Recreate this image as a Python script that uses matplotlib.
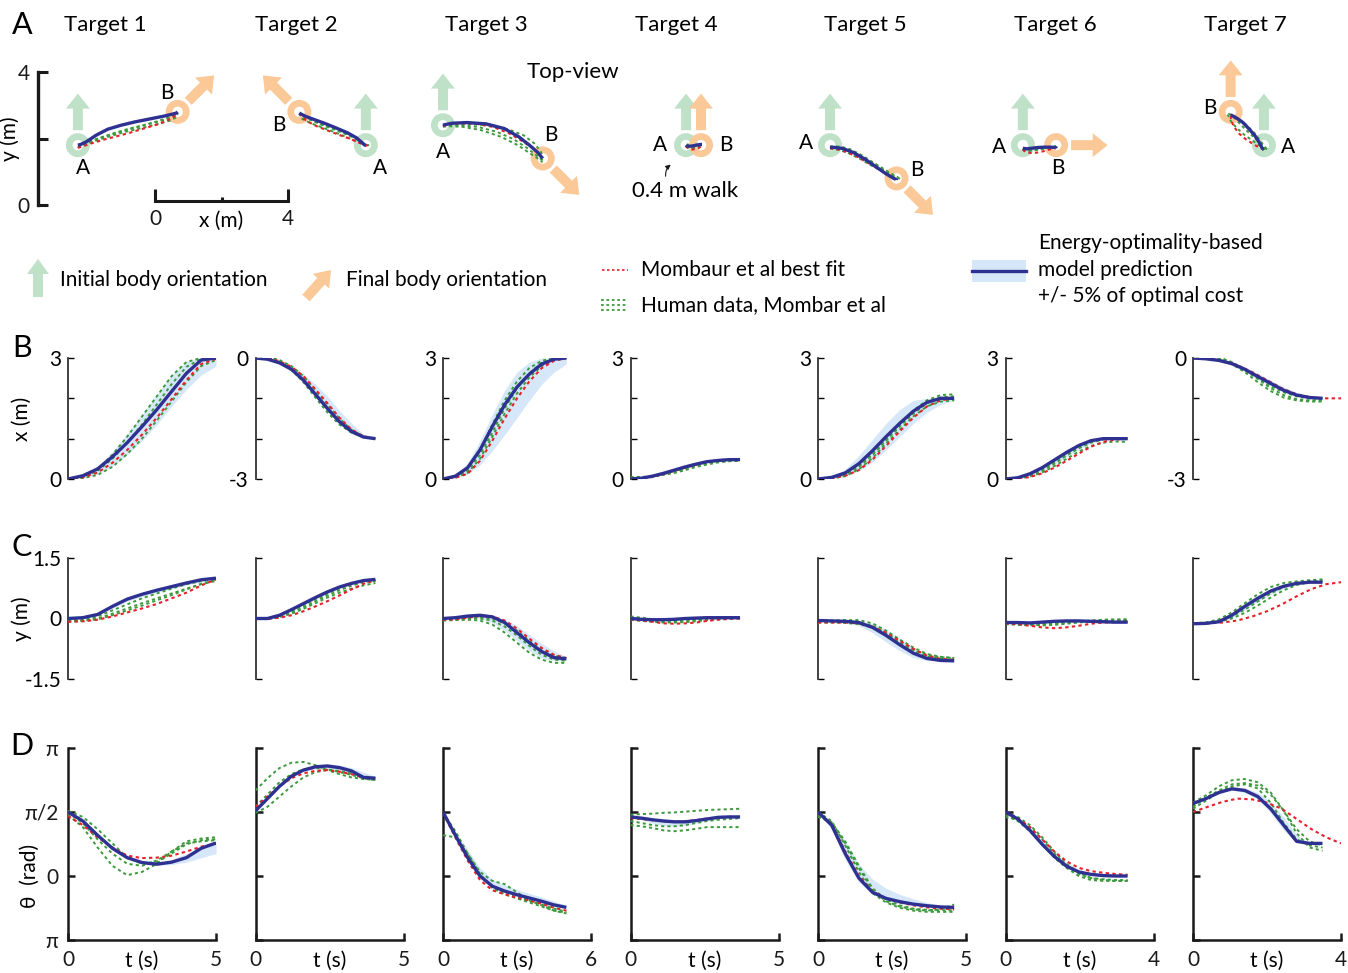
import numpy as np
import matplotlib
matplotlib.use("Agg")
import matplotlib.pyplot as plt
from matplotlib.patches import Circle, FancyArrow, Rectangle

plt.rcParams['font.family'] = ['Lato', 'DejaVu Sans']
plt.rcParams['font.size'] = 15

W, H = 1348, 973

#------------------ data
TARGETS = ['Target 1', 'Target 2', 'Target 3', 'Target 4', 'Target 5', 'Target 6', 'Target 7']
SAMPLES = [0.0, 0.1, 0.2, 0.3, 0.4, 0.5, 0.6, 0.7, 0.8, 0.9, 1.0]   # fraction of movement time
T_END = [5.0, 4.05, 5.0, 3.7, 4.6, 3.3, 3.5]
FIT_END = [5.0, 4.05, 5.0, 3.7, 4.6, 3.3, 4.0]
T_AXIS = [5, 5, 6, 5, 5, 4, 4]
X_RANGE = [(0, 3), (-3, 0), (0, 3), (0, 3), (0, 3), (0, 3), (-3, 0)]

# x (m)
X_MODEL = [
    [0, 0.08, 0.25, 0.55, 0.9, 1.3, 1.72, 2.17, 2.62, 2.95, 3.0],
    [0, -0.03, -0.12, -0.28, -0.55, -0.9, -1.25, -1.58, -1.82, -1.96, -2.0],
    [0, 0.07, 0.28, 0.72, 1.3, 1.84, 2.28, 2.6, 2.85, 2.97, 3.0],
    [0, 0.02, 0.07, 0.14, 0.22, 0.3, 0.37, 0.43, 0.46, 0.48, 0.48],
    [0, 0.04, 0.15, 0.38, 0.7, 1.05, 1.38, 1.68, 1.9, 2.0, 2.0],
    [0, 0.03, 0.13, 0.28, 0.47, 0.66, 0.83, 0.95, 1.0, 1.0, 1.0],
    [0, -0.02, -0.06, -0.14, -0.28, -0.46, -0.63, -0.8, -0.92, -0.98, -1.0],
]
X_FIT = [
    [0, 0.04, 0.16, 0.4, 0.72, 1.1, 1.52, 1.98, 2.45, 2.85, 2.98],
    [0.05, 0.0, -0.08, -0.22, -0.45, -0.78, -1.12, -1.48, -1.77, -1.94, -2.0],
    [0, 0.03, 0.13, 0.45, 0.95, 1.5, 2.0, 2.42, 2.75, 2.93, 3.0],
    [0, 0.01, 0.05, 0.12, 0.2, 0.28, 0.36, 0.42, 0.46, 0.48, 0.48],
    [0, 0.02, 0.08, 0.22, 0.48, 0.82, 1.18, 1.52, 1.8, 1.95, 2.0],
    [0, 0.01, 0.05, 0.14, 0.28, 0.45, 0.63, 0.8, 0.92, 0.98, 1.0],
    [0, -0.02, -0.07, -0.18, -0.35, -0.55, -0.75, -0.9, -0.98, -1.0, -1.0],
]
X_HUMAN = [
    [[0, 0.06, 0.24, 0.6, 1.05, 1.55, 2.05, 2.55, 2.9, 3.0, 3.0],
     [0, 0.05, 0.2, 0.5, 0.9, 1.35, 1.85, 2.35, 2.78, 2.98, 3.0],
     [0, 0.02, 0.1, 0.3, 0.62, 1.0, 1.45, 1.92, 2.4, 2.8, 2.95]],
    [[0.08, 0.03, -0.08, -0.28, -0.6, -0.98, -1.35, -1.65, -1.85, -1.96, -2.0],
     [0.05, 0.0, -0.1, -0.3, -0.58, -0.92, -1.28, -1.6, -1.83, -1.96, -2.0],
     [0.1, 0.05, -0.05, -0.2, -0.45, -0.8, -1.15, -1.5, -1.78, -1.94, -2.0]],
    [[0, 0.04, 0.2, 0.6, 1.15, 1.75, 2.25, 2.62, 2.88, 2.98, 3.0],
     [0, 0.03, 0.15, 0.5, 1.05, 1.62, 2.12, 2.52, 2.8, 2.95, 3.0],
     [0, 0.05, 0.25, 0.72, 1.35, 1.95, 2.42, 2.75, 2.93, 3.0, 3.0]],
    [[0.05, 0.05, 0.07, 0.1, 0.15, 0.22, 0.3, 0.36, 0.41, 0.44, 0.45],
     [0.02, 0.03, 0.06, 0.11, 0.18, 0.26, 0.33, 0.39, 0.43, 0.45, 0.46],
     [0, 0.02, 0.06, 0.12, 0.2, 0.28, 0.35, 0.41, 0.45, 0.47, 0.47]],
    [[0, 0.02, 0.1, 0.3, 0.6, 0.95, 1.3, 1.62, 1.88, 2.02, 2.05],
     [0, 0.03, 0.12, 0.32, 0.62, 0.98, 1.35, 1.7, 1.95, 2.08, 2.1],
     [0, 0.01, 0.07, 0.24, 0.52, 0.88, 1.22, 1.55, 1.8, 1.92, 1.95]],
    [[0, 0.02, 0.08, 0.2, 0.38, 0.58, 0.76, 0.9, 0.98, 1.0, 1.0],
     [0, 0.01, 0.06, 0.16, 0.32, 0.5, 0.68, 0.82, 0.9, 0.93, 0.92],
     [0, 0.02, 0.1, 0.24, 0.42, 0.62, 0.8, 0.93, 0.99, 1.0, 1.0]],
    [[0.08, 0.06, 0.0, -0.12, -0.3, -0.52, -0.75, -0.92, -1.02, -1.05, -1.05],
     [0.1, 0.08, 0.02, -0.1, -0.28, -0.5, -0.7, -0.85, -0.95, -1.0, -1.0],
     [0.05, 0.03, -0.03, -0.15, -0.35, -0.6, -0.82, -0.98, -1.05, -1.08, -1.08]],
]
X_LO = [
    [0, 0.03, 0.12, 0.32, 0.6, 0.95, 1.35, 1.8, 2.22, 2.58, 2.8],
    [0, -0.04, -0.15, -0.33, -0.62, -0.98, -1.33, -1.65, -1.88, -1.98, -2.0],
    [0, 0.03, 0.12, 0.35, 0.7, 1.1, 1.52, 1.95, 2.35, 2.65, 2.85],
    [0, 0.0, 0.05, 0.12, 0.2, 0.28, 0.35, 0.41, 0.44, 0.46, 0.47],
    [0, 0.02, 0.07, 0.2, 0.42, 0.72, 1.05, 1.38, 1.65, 1.85, 1.95],
    [0, 0.02, 0.09, 0.2, 0.36, 0.55, 0.73, 0.88, 0.97, 1.0, 1.0],
    [0, -0.03, -0.08, -0.18, -0.34, -0.53, -0.7, -0.85, -0.95, -1.0, -1.0],
]
X_HI = [
    [0, 0.1, 0.32, 0.68, 1.12, 1.6, 2.1, 2.58, 2.92, 3.0, 3.0],
    [0, -0.02, -0.08, -0.2, -0.4, -0.65, -0.95, -1.3, -1.62, -1.88, -2.0],
    [0, 0.1, 0.4, 0.95, 1.6, 2.2, 2.65, 2.9, 3.0, 3.0, 3.0],
    [0, 0.04, 0.09, 0.16, 0.24, 0.32, 0.39, 0.45, 0.48, 0.5, 0.49],
    [0, 0.06, 0.25, 0.58, 0.98, 1.38, 1.72, 1.95, 2.0, 2.0, 2.0],
    [0, 0.04, 0.16, 0.33, 0.53, 0.72, 0.88, 0.98, 1.0, 1.0, 1.0],
    [0, -0.01, -0.04, -0.1, -0.22, -0.38, -0.55, -0.72, -0.85, -0.93, -0.97],
]

# y (m)
Y_MODEL = [
    [0, 0.02, 0.1, 0.3, 0.48, 0.6, 0.7, 0.79, 0.88, 0.96, 1.0],
    [0, 0.0, 0.08, 0.22, 0.37, 0.52, 0.66, 0.78, 0.87, 0.94, 0.97],
    [0, 0.02, 0.06, 0.08, 0.04, -0.1, -0.35, -0.6, -0.82, -0.97, -1.0],
    [0, -0.02, -0.03, -0.03, -0.02, 0.0, 0.01, 0.02, 0.02, 0.02, 0.02],
    [-0.05, -0.06, -0.07, -0.1, -0.22, -0.42, -0.65, -0.86, -0.99, -1.04, -1.05],
    [-0.1, -0.1, -0.11, -0.09, -0.07, -0.06, -0.06, -0.07, -0.08, -0.09, -0.09],
    [-0.13, -0.12, -0.08, 0.08, 0.3, 0.5, 0.68, 0.8, 0.87, 0.9, 0.9],
]
Y_FIT = [
    [-0.08, -0.07, -0.03, 0.05, 0.15, 0.25, 0.36, 0.5, 0.64, 0.82, 0.97],
    [0, -0.01, 0.02, 0.08, 0.18, 0.3, 0.43, 0.57, 0.72, 0.86, 0.95],
    [-0.03, -0.02, 0.02, 0.06, 0.05, -0.05, -0.25, -0.5, -0.73, -0.9, -0.98],
    [-0.02, -0.05, -0.08, -0.12, -0.13, -0.12, -0.1, -0.06, -0.03, -0.01, 0.0],
    [-0.1, -0.1, -0.1, -0.12, -0.2, -0.35, -0.55, -0.75, -0.92, -1.0, -1.02],
    [-0.12, -0.14, -0.18, -0.22, -0.24, -0.22, -0.18, -0.13, -0.1, -0.09, -0.08],
    [-0.13, -0.12, -0.1, -0.05, 0.05, 0.18, 0.35, 0.55, 0.73, 0.85, 0.9],
]
Y_HUMAN = [
    [[-0.05, -0.03, 0.05, 0.2, 0.35, 0.5, 0.62, 0.74, 0.85, 0.93, 0.97],
     [-0.06, -0.05, 0.0, 0.12, 0.25, 0.38, 0.5, 0.62, 0.74, 0.85, 0.93],
     [-0.08, -0.06, -0.02, 0.08, 0.2, 0.32, 0.45, 0.58, 0.72, 0.86, 0.95]],
    [[0, 0, 0.06, 0.18, 0.33, 0.48, 0.62, 0.75, 0.85, 0.92, 0.95],
     [0, -0.01, 0.03, 0.12, 0.24, 0.38, 0.52, 0.64, 0.74, 0.82, 0.88],
     [0, 0, 0.05, 0.15, 0.28, 0.43, 0.57, 0.7, 0.81, 0.9, 0.93]],
    [[-0.05, -0.04, -0.03, -0.05, -0.15, -0.35, -0.6, -0.85, -1.02, -1.1, -1.1],
     [-0.04, -0.02, 0.0, 0.0, -0.05, -0.2, -0.42, -0.68, -0.9, -1.02, -1.05],
     [-0.03, -0.02, 0.02, 0.04, 0.0, -0.12, -0.3, -0.55, -0.78, -0.92, -0.98]],
    [[0.05, 0.02, -0.02, -0.05, -0.06, -0.05, -0.03, 0.0, 0.02, 0.03, 0.03],
     [-0.03, -0.06, -0.08, -0.1, -0.1, -0.09, -0.07, -0.04, -0.02, 0.0, 0.01],
     [0.0, -0.03, -0.05, -0.06, -0.06, -0.05, -0.03, -0.01, 0.0, 0.01, 0.01]],
    [[-0.05, -0.05, -0.04, -0.04, -0.12, -0.3, -0.52, -0.72, -0.88, -0.95, -0.98],
     [-0.08, -0.08, -0.08, -0.1, -0.18, -0.36, -0.58, -0.8, -0.94, -1.0, -1.02],
     [-0.1, -0.1, -0.11, -0.14, -0.22, -0.4, -0.6, -0.78, -0.9, -0.96, -0.98]],
    [[-0.12, -0.13, -0.14, -0.14, -0.12, -0.1, -0.08, -0.05, -0.03, -0.02, -0.02],
     [-0.1, -0.12, -0.15, -0.17, -0.16, -0.13, -0.1, -0.07, -0.05, -0.05, -0.06],
     [-0.14, -0.16, -0.17, -0.16, -0.13, -0.1, -0.08, -0.06, -0.05, -0.04, -0.03]],
    [[-0.12, -0.1, -0.02, 0.15, 0.38, 0.6, 0.78, 0.88, 0.92, 0.95, 0.97],
     [-0.12, -0.11, -0.06, 0.05, 0.22, 0.42, 0.62, 0.78, 0.88, 0.92, 0.93],
     [-0.13, -0.12, -0.08, 0.0, 0.14, 0.32, 0.52, 0.7, 0.83, 0.9, 0.92]],
]
Y_LO = [
    [0, 0, 0.08, 0.25, 0.42, 0.55, 0.65, 0.74, 0.83, 0.9, 0.95],
    [0, 0, 0.06, 0.19, 0.33, 0.48, 0.62, 0.74, 0.84, 0.92, 0.96],
    [0, 0.0, 0.02, 0.0, -0.1, -0.3, -0.55, -0.8, -0.98, -1.04, -1.05],
    [-0.03, -0.05, -0.06, -0.06, -0.05, -0.03, -0.02, -0.01, -0.01, -0.01, -0.01],
    [-0.05, -0.07, -0.1, -0.18, -0.35, -0.58, -0.8, -0.97, -1.04, -1.05, -1.05],
    [-0.13, -0.13, -0.14, -0.12, -0.1, -0.09, -0.09, -0.1, -0.11, -0.12, -0.12],
    [-0.13, -0.12, -0.1, 0.02, 0.22, 0.42, 0.6, 0.75, 0.85, 0.89, 0.9],
]
Y_HI = [
    [0, 0.03, 0.12, 0.33, 0.52, 0.65, 0.76, 0.85, 0.93, 0.99, 1.0],
    [0, 0.01, 0.1, 0.25, 0.41, 0.56, 0.7, 0.81, 0.9, 0.96, 0.98],
    [0, 0.02, 0.06, 0.08, 0.06, -0.02, -0.18, -0.4, -0.62, -0.8, -0.95],
    [0.03, 0.01, 0.0, 0.0, 0.01, 0.03, 0.04, 0.05, 0.05, 0.05, 0.05],
    [-0.05, -0.05, -0.05, -0.06, -0.12, -0.28, -0.5, -0.72, -0.9, -1.0, -1.03],
    [-0.07, -0.07, -0.08, -0.06, -0.04, -0.03, -0.03, -0.04, -0.05, -0.06, -0.06],
    [-0.13, -0.1, -0.02, 0.16, 0.38, 0.58, 0.74, 0.84, 0.89, 0.9, 0.9],
]

# theta (rad)
TH_MODEL = [
    [1.57, 1.35, 1.0, 0.68, 0.45, 0.33, 0.29, 0.34, 0.45, 0.68, 0.81],
    [1.6, 1.9, 2.2, 2.45, 2.6, 2.68, 2.7, 2.66, 2.58, 2.42, 2.4],
    [1.57, 1.0, 0.45, 0.0, -0.25, -0.37, -0.46, -0.54, -0.62, -0.71, -0.77],
    [1.45, 1.42, 1.38, 1.35, 1.33, 1.33, 1.36, 1.4, 1.44, 1.45, 1.45],
    [1.57, 1.25, 0.55, -0.05, -0.4, -0.55, -0.63, -0.69, -0.73, -0.76, -0.77],
    [1.57, 1.4, 1.12, 0.78, 0.48, 0.24, 0.1, 0.04, 0.01, 0.0, 0.0],
    [1.78, 1.9, 2.05, 2.14, 2.1, 1.95, 1.65, 1.25, 0.85, 0.8, 0.8],
]
TH_FIT = [
    [1.47, 1.25, 0.95, 0.7, 0.5, 0.44, 0.45, 0.5, 0.6, 0.72, 0.8],
    [1.7, 1.95, 2.2, 2.4, 2.52, 2.58, 2.6, 2.56, 2.5, 2.42, 2.4],
    [1.55, 0.95, 0.38, -0.1, -0.35, -0.45, -0.53, -0.6, -0.68, -0.78, -0.85],
    [1.42, 1.4, 1.37, 1.34, 1.33, 1.34, 1.37, 1.41, 1.44, 1.45, 1.45],
    [1.55, 1.28, 0.6, 0.0, -0.38, -0.55, -0.65, -0.72, -0.77, -0.8, -0.82],
    [1.55, 1.42, 1.2, 0.9, 0.6, 0.36, 0.2, 0.12, 0.08, 0.05, 0.03],
    [1.57, 1.7, 1.82, 1.9, 1.88, 1.8, 1.65, 1.4, 1.15, 0.95, 0.8],
]
TH_HUMAN = [
    [[1.5, 1.2, 0.7, 0.25, 0.02, 0.1, 0.3, 0.6, 0.85, 0.92, 0.95],
     [1.6, 1.45, 1.15, 0.8, 0.45, 0.3, 0.35, 0.55, 0.78, 0.88, 0.9],
     [1.55, 1.3, 0.9, 0.55, 0.3, 0.25, 0.38, 0.6, 0.8, 0.85, 0.88]],
    [[2.1, 2.4, 2.65, 2.78, 2.8, 2.72, 2.6, 2.5, 2.42, 2.38, 2.36],
     [1.55, 1.7, 1.95, 2.2, 2.42, 2.55, 2.6, 2.58, 2.52, 2.45, 2.4],
     [1.7, 2.0, 2.3, 2.5, 2.62, 2.65, 2.62, 2.55, 2.48, 2.4, 2.35]],
    [[1.0, 0.95, 0.55, 0.1, -0.12, -0.2, -0.4, -0.6, -0.72, -0.85, -0.92],
     [1.55, 1.1, 0.55, 0.05, -0.3, -0.45, -0.55, -0.65, -0.75, -0.85, -0.9],
     [1.57, 1.05, 0.48, 0.02, -0.28, -0.42, -0.52, -0.6, -0.7, -0.8, -0.88]],
    [[1.5, 1.52, 1.53, 1.55, 1.56, 1.58, 1.6, 1.62, 1.63, 1.64, 1.65],
     [1.25, 1.22, 1.18, 1.12, 1.1, 1.12, 1.16, 1.2, 1.2, 1.2, 1.2],
     [1.35, 1.3, 1.25, 1.22, 1.22, 1.25, 1.3, 1.35, 1.38, 1.4, 1.42]],
    [[1.5, 1.3, 0.8, 0.2, -0.35, -0.62, -0.75, -0.82, -0.85, -0.82, -0.7],
     [1.57, 1.35, 0.75, 0.1, -0.42, -0.65, -0.78, -0.85, -0.88, -0.88, -0.88],
     [1.45, 1.32, 0.85, 0.25, -0.3, -0.58, -0.72, -0.8, -0.83, -0.84, -0.84]],
    [[1.5, 1.35, 1.1, 0.78, 0.45, 0.2, 0.0, -0.1, -0.12, -0.12, -0.12],
     [1.45, 1.38, 1.2, 0.9, 0.55, 0.25, 0.05, -0.05, -0.08, -0.1, -0.1],
     [1.55, 1.45, 1.25, 0.95, 0.6, 0.3, 0.08, -0.05, -0.1, -0.12, -0.12]],
    [[1.8, 1.98, 2.2, 2.35, 2.38, 2.3, 2.05, 1.6, 1.05, 0.7, 0.62],
     [1.65, 1.85, 2.05, 2.2, 2.25, 2.15, 1.8, 1.3, 0.9, 0.75, 0.7],
     [1.7, 1.92, 2.1, 2.25, 2.28, 2.22, 2.0, 1.6, 1.15, 0.85, 0.75]],
]
TH_LO = [
    [1.57, 1.33, 0.97, 0.65, 0.42, 0.3, 0.26, 0.28, 0.34, 0.45, 0.55],
    [1.6, 1.88, 2.18, 2.42, 2.56, 2.63, 2.63, 2.58, 2.5, 2.4, 2.38],
    [1.57, 0.98, 0.42, -0.02, -0.27, -0.4, -0.49, -0.57, -0.65, -0.73, -0.78],
    [1.45, 1.38, 1.3, 1.24, 1.22, 1.24, 1.3, 1.36, 1.41, 1.44, 1.45],
    [1.57, 1.15, 0.4, -0.15, -0.45, -0.6, -0.68, -0.72, -0.75, -0.77, -0.77],
    [1.57, 1.38, 1.08, 0.73, 0.42, 0.2, 0.08, 0.02, 0.0, 0.0, 0.0],
    [1.78, 1.88, 2.02, 2.1, 2.05, 1.88, 1.55, 1.12, 0.82, 0.8, 0.8],
]
TH_HI = [
    [1.57, 1.37, 1.03, 0.71, 0.48, 0.36, 0.32, 0.4, 0.55, 0.72, 0.81],
    [1.6, 1.92, 2.22, 2.48, 2.64, 2.72, 2.75, 2.72, 2.66, 2.55, 2.45],
    [1.57, 1.1, 0.65, 0.2, -0.08, -0.22, -0.33, -0.43, -0.52, -0.62, -0.72],
    [1.45, 1.44, 1.42, 1.4, 1.38, 1.37, 1.38, 1.41, 1.44, 1.45, 1.45],
    [1.57, 1.35, 0.85, 0.3, -0.08, -0.3, -0.45, -0.56, -0.65, -0.72, -0.77],
    [1.57, 1.43, 1.2, 0.88, 0.58, 0.33, 0.16, 0.07, 0.02, 0.0, 0.0],
    [1.78, 1.92, 2.08, 2.18, 2.16, 2.05, 1.82, 1.45, 1.0, 0.82, 0.8],
]

# top-view: start point of each target in the panel (m), goal and orientations
START_X = [1.2, 9.86, 12.18, 19.49, 23.82, 29.62, 36.87]
START_Y = [1.8, 1.8, 2.4, 1.8, 1.8, 1.8, 1.8]
GOAL_DX = [3.0, -2.0, 3.0, 0.45, 2.0, 1.0, -1.0]
GOAL_DY = [1.0, 1.0, -1.0, 0.0, -1.0, 0.0, 1.0]
START_DEG = [90, 90, 90, 90, 90, 90, 90]
GOAL_DEG = [45, 135, -45, 90, -45, 0, 90]
LAB_A = [(0.15, -0.69), (0.42, -0.69), (0.0, -0.8), (-0.78, 0.0), (-0.72, 0.06), (-0.72, -0.06), (0.72, -0.06)]
LAB_B = [(-0.33, 0.57), (-0.63, -0.39), (0.24, 0.72), (0.75, 0.0), (0.6, 0.24), (0.06, -0.69), (-0.63, 0.12)]

#------------------ styles
NAVY = '#2e3192'
RED = '#e8202a'
GREEN = '#3c9a3c'
BAND = '#d5e7f8'
GREEN_L = '#bfe1c8'
ORANGE_L = '#fbc898'
INK = '#1a1a1a'
MODEL_KW = dict(color=NAVY, lw=2.4, zorder=5, solid_capstyle='butt')
FIT_KW = dict(color=RED, lw=1.5, ls=(0, (1.6, 1.6)), zorder=4)
HUM_KW = dict(color=GREEN, lw=1.4, ls=(0, (1.6, 1.6)), zorder=3)

COL_LEFT = [68, 255.5, 443, 630.5, 818, 1005.5, 1193]
COL_W = 148
TITLE_X = [105, 296, 486, 676, 865, 1055, 1245]
LEG_FS = 15

fig = plt.figure(figsize=(W / 100, H / 100), dpi=100)


def px_axes(left, top, width, height):
    return fig.add_axes([left / W, 1 - (top + height) / H, width / W, height / H])


def draw_series(ax, k, model, fit, human, lo, hi):
    t = np.array(SAMPLES) * T_END[k]
    tf = np.array(SAMPLES) * FIT_END[k]
    ax.fill_between(t, lo[k], hi[k], color=BAND, lw=0, zorder=1)
    for h in human[k]:
        ax.plot(t, h, **HUM_KW)
    ax.plot(tf, fit[k], **FIT_KW)
    ax.plot(t, model[k], **MODEL_KW)
    ax.set_xlim(0, T_AXIS[k])


def style_left(ax, color='#333333', lw=1.3):
    for s in ('top', 'right', 'bottom'):
        ax.spines[s].set_visible(False)
    ax.spines['left'].set_color(color)
    ax.spines['left'].set_linewidth(lw)
    ax.set_xticks([])
    ax.patch.set_alpha(0)


def orient_arrow(ax, cx, cy, deg, color):
    ux, uy = np.cos(np.radians(deg)), np.sin(np.radians(deg))
    ax.add_patch(FancyArrow(cx + 0.45 * ux, cy + 0.45 * uy, 1.1 * ux, 1.1 * uy,
                            width=0.3, head_width=0.72, head_length=0.45,
                            length_includes_head=True, color=color, lw=0,
                            clip_on=False, zorder=0))


#------------------ panel A: top view
axA = px_axes(38, 72, 1302, 133)
axA.set_xlim(0, 1302 / 33.25)
axA.set_ylim(0, 4)
style_left(axA, color=INK, lw=2.4)
axA.set_yticks([0, 2, 4])
axA.set_yticklabels(['0', '', '4'])
axA.tick_params(axis='y', direction='in', length=7, width=2.2, pad=6, colors=INK)
axA.set_ylabel('y (m)')
axA.yaxis.set_label_coords(-0.014, 0.5)

for k in range(7):
    ox, oy = START_X[k], START_Y[k]
    gx, gy = ox + GOAL_DX[k], oy + GOAL_DY[k]
    axA.add_patch(Circle((ox, oy), 0.26, fill=False, ec=GREEN_L, lw=4.8, zorder=1, clip_on=False))
    axA.add_patch(Circle((gx, gy), 0.26, fill=False, ec=ORANGE_L, lw=4.8, zorder=1, clip_on=False))
    orient_arrow(axA, ox, oy, START_DEG[k], GREEN_L)
    orient_arrow(axA, gx, gy, GOAL_DEG[k], ORANGE_L)
    for hx, hy in zip(X_HUMAN[k], Y_HUMAN[k]):
        axA.plot(ox + np.array(hx), oy + np.array(hy), clip_on=False, **HUM_KW)
    axA.plot(ox + np.array(X_FIT[k]), oy + np.array(Y_FIT[k]), clip_on=False, **FIT_KW)
    axA.plot(ox + np.array(X_MODEL[k]), oy + np.array(Y_MODEL[k]), clip_on=False, **MODEL_KW)
    axA.text(ox + LAB_A[k][0], oy + LAB_A[k][1], 'A', ha='center', va='center')
    axA.text(gx + LAB_B[k][0], gy + LAB_B[k][1], 'B', ha='center', va='center')
    fig.text(TITLE_X[k] / W, 1 - 25 / H, TARGETS[k], ha='center', va='center', fontsize=16)

# scale bar for x
axS = px_axes(155, 191, 133, 10)
axS.set_xlim(0, 4)
for s in ('top', 'right', 'left'):
    axS.spines[s].set_visible(False)
axS.spines['bottom'].set_linewidth(2.2)
axS.spines['bottom'].set_color(INK)
axS.patch.set_alpha(0)
axS.set_yticks([])
axS.set_xticks([0, 4])
axS.set_xticks([2], minor=True)
axS.tick_params(axis='x', which='major', direction='in', length=9, width=2.2, pad=6, colors=INK)
axS.tick_params(axis='x', which='minor', direction='in', length=3, width=2.2, colors=INK)
axS.set_xlabel('x (m)')
axS.xaxis.set_label_coords(0.5, -2.0)
axS.xaxis.label.set_va('center')

#------------------ panels B, C, D
for k in range(7):
    L = COL_LEFT[k]

    # B: x(t)
    axB = px_axes(L, 358, COL_W, 121)
    draw_series(axB, k, X_MODEL, X_FIT, X_HUMAN, X_LO, X_HI)
    lo_b, hi_b = X_RANGE[k]
    axB.set_ylim(lo_b, hi_b)
    style_left(axB)
    axB.set_yticks([lo_b, lo_b + 1, lo_b + 2, hi_b])
    axB.set_yticklabels([str(lo_b), '', '', str(hi_b)])
    axB.tick_params(axis='y', direction='in', length=4, width=1, pad=5)

    # C: y(t)
    axC = px_axes(L, 558, COL_W, 121)
    draw_series(axC, k, Y_MODEL, Y_FIT, Y_HUMAN, Y_LO, Y_HI)
    axC.set_ylim(-1.5, 1.5)
    style_left(axC)
    axC.set_yticks([-1.5, 0, 1.5])
    axC.tick_params(axis='y', direction='in', length=4, width=1, pad=5)
    axC.yaxis.get_major_ticks()[1].tick1line.set_visible(False)
    if k == 0:
        axC.set_yticklabels(['-1.5', '0', '1.5'])
    else:
        axC.set_yticklabels([])

    # D: theta(t)
    axD = px_axes(L, 748, COL_W, 192)
    draw_series(axD, k, TH_MODEL, TH_FIT, TH_HUMAN, TH_LO, TH_HI)
    axD.set_ylim(-np.pi / 2, np.pi)
    for s in ('top', 'right'):
        axD.spines[s].set_visible(False)
    for s in ('left', 'bottom'):
        axD.spines[s].set_linewidth(1.8)
        axD.spines[s].set_color(INK)
    axD.patch.set_alpha(0)
    axD.set_yticks([-np.pi / 2, 0, np.pi / 2, np.pi])
    axD.set_xticks([0, T_AXIS[k]])
    axD.set_xticklabels(['0', str(T_AXIS[k])])
    axD.tick_params(direction='in', length=5, width=1.8, pad=7, colors=INK)
    axD.set_xlabel('t (s)')
    axD.xaxis.set_label_coords(0.5, -0.11)
    axD.xaxis.label.set_va('center')
    if k == 0:
        axD.set_yticklabels(['π', '0', 'π/2', 'π'])
    else:
        axD.set_yticklabels([])

    if k == 0:
        axB.set_ylabel('x (m)')
        axB.yaxis.set_label_coords((22 - L) / COL_W, 0.5)
        axC.set_ylabel('y (m)')
        axC.yaxis.set_label_coords((22 - L) / COL_W, 0.5)
        axD.set_ylabel('θ  (rad)')
        axD.yaxis.set_label_coords((30 - L) / COL_W, 0.333)
    for a in (axB, axC, axD):
        a.yaxis.label.set_va('center')

#------------------ panel letters, notes and legend (pixel overlay)
ov = px_axes(0, 0, W, H)
ov.set_xlim(0, W)
ov.set_ylim(H, 0)
ov.axis('off')

for letter, y in zip('ABCD', [25, 348, 547, 746]):
    ov.text(22, y, letter, fontsize=22, ha='center', va='center')

ov.text(573, 72, 'Top-view', ha='center', va='center', fontsize=16)
ov.text(685, 191, '0.4 m walk', ha='center', va='center', fontsize=16)
ov.annotate('', xy=(673, 163), xytext=(666, 179),
            arrowprops=dict(arrowstyle='-|>', connectionstyle='arc3,rad=-0.35',
                            lw=0.8, color=INK, mutation_scale=7))

ov.add_patch(FancyArrow(38, 297, 0, -38, width=10, head_width=22, head_length=15,
                        length_includes_head=True, color=GREEN_L, lw=0))
ov.text(60, 280, 'Initial body orientation', va='center', fontsize=LEG_FS)
ov.add_patch(FancyArrow(306, 298, 25, -28, width=10, head_width=22, head_length=15,
                        length_includes_head=True, color=ORANGE_L, lw=0))
ov.text(346, 280, 'Final body orientation', va='center', fontsize=LEG_FS)

ov.plot([602, 628], [270, 270], color=RED, lw=1.2, ls=(0, (1.5, 1.5)))
ov.text(641, 270, 'Mombaur et al best fit', va='center', fontsize=LEG_FS)
for yy in (300, 305, 310):
    ov.plot([601, 628], [yy, yy], color=GREEN, lw=1.3, ls=(0, (1.5, 1.5)))
ov.text(641, 305, 'Human data, Mombar et al', va='center', fontsize=LEG_FS)

ov.add_patch(Rectangle((972, 260), 54, 22, color=BAND, lw=0))
ov.plot([972, 1026], [271, 271], color=NAVY, lw=2.4)
ov.text(1038, 243, 'Energy-optimality-based', va='center', fontsize=LEG_FS)
ov.text(1038, 270, 'model prediction', va='center', fontsize=LEG_FS)
ov.text(1038, 296, '+/- 5% of optimal cost', va='center', fontsize=LEG_FS)

fig.savefig('out.png', dpi=100)
